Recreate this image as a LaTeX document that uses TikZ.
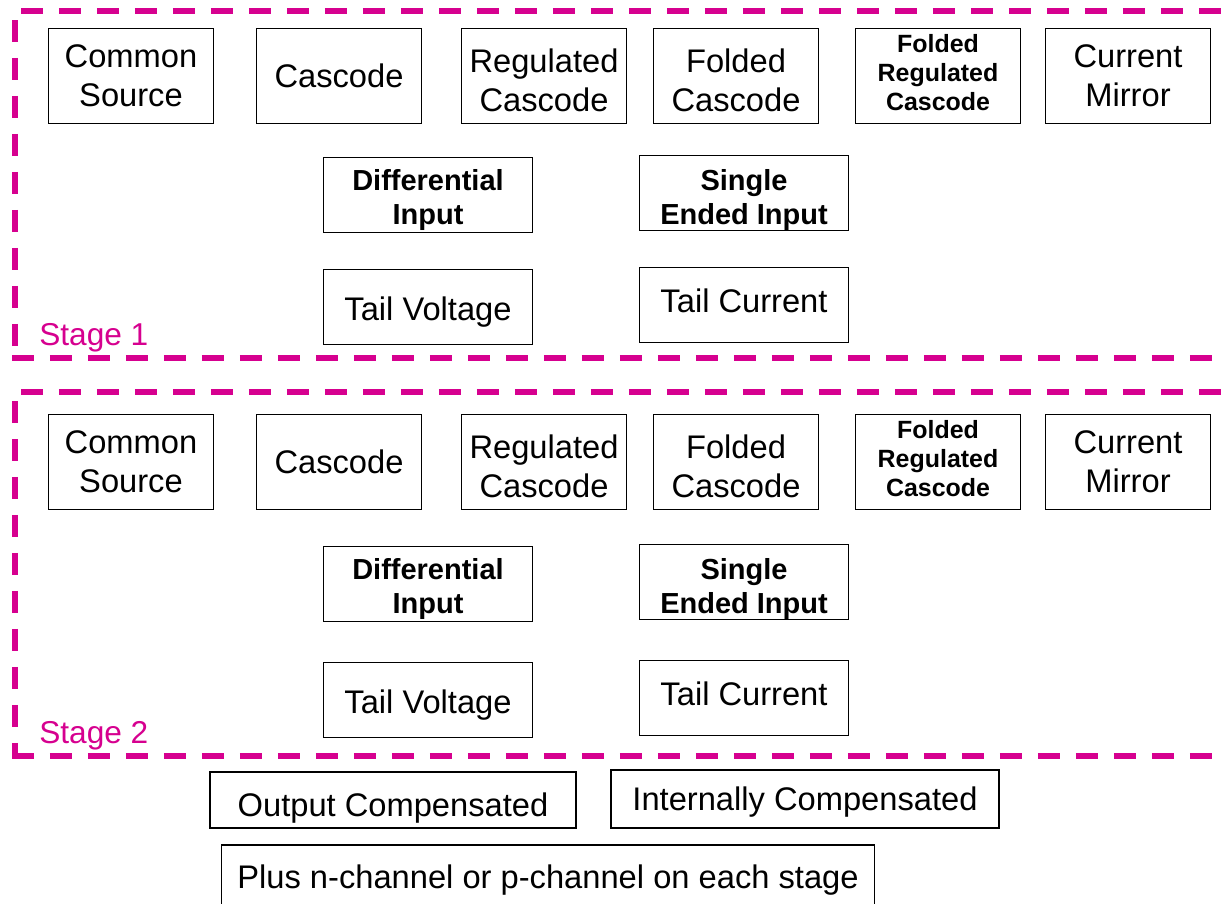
\documentclass[tikz,border=0pt]{standalone}
\usepackage{fontspec}
\setmainfont{Liberation Sans}
\usepackage{tikz}
\usetikzlibrary{positioning}
\definecolor{stagepink}{RGB}{214,0,143}
\tikzset{
   block/.style={draw=black, line width=0.8pt, align=center, inner sep=0pt,
                 font=\fontsize{18.6}{22}\selectfont},
   topblock/.style={block, minimum width=3.3cm, minimum height=1.9cm},
   midblock/.style={block, minimum width=4.18cm, minimum height=1.5cm},
   boldblock/.style={midblock, font=\fontsize{16.5}{19.3}\selectfont\bfseries},
   smallbold/.style={topblock, font=\fontsize{14.2}{16.5}\selectfont\bfseries},
   stageline/.style={draw=stagepink, line width=3.4pt, dash pattern=on 0.44cm off 0.32cm},
   stagelabel/.style={text=stagepink, anchor=west, inner sep=0pt,
                 font=\fontsize{18}{21}\selectfont},
   % move the text inside a box down (height) or up (depth)
   down/.style={text height=#1},
   up/.style={text depth=#1}
}

\begin{document}
\begin{tikzpicture}[x=0.02cm,y=-0.02cm]
\useasboundingbox (0,0) rectangle (1223,903);

% the two stages are drawn the same way
\foreach \s/\ya/\yb/\yc/\yt/\yd in {1/76/195/307/11/358, 2/462/584/700/392/756}{
  % dashed frame, open to the right
  \draw[stageline] (21,\yt) -- (1240,\yt);
  \draw[stageline] (15,\yt+9) -- (15,\yd);
  \draw[stageline] (12,\yd) -- (1240,\yd);
  \node[stagelabel] (stage\s) at (39,\yd-20) {Stage \s};
  % first row
  \node[topblock] (cs\s)   at (131,\ya)  {Common\\Source};
  \node[topblock] (casc\s) at (339,\ya)  {Cascode};
  \node[topblock, down=40.5pt] (reg\s)  at (544,\ya)  {Regulated\\Cascode};
  \node[topblock, down=40.5pt] (fold\s) at (736,\ya)  {Folded\\Cascode};
  \node[smallbold, down=39.4pt] (freg\s) at (938,\ya) {Folded\\Regulated\\Cascode};
  \node[topblock] (mirr\s) at (1128,\ya) {Current\\Mirror};
  % input and tail
  \node[boldblock, down=37pt]   (diff\s)   at (428,\yb)   {Differential\\Input};
  \node[boldblock, down=38.9pt] (single\s) at (744,\yb-2) {Single\\Ended Input};
  \node[midblock, down=19.1pt]  (tailv\s)  at (428,\yc)   {Tail Voltage};
  \node[midblock, up=4.6pt]     (taili\s)  at (744,\yc-2) {Tail Current};
}

% compensation
\node[block, down=22.9pt, minimum width=7.32cm, minimum height=1.12cm] (outc) at (393,800) {Output Compensated};
\node[block, down=16.8pt, minimum width=7.76cm, minimum height=1.16cm] (intc) at (805,799) {Internally Compensated};
\node[block, down=18pt, minimum width=13.06cm, minimum height=1.24cm] (chan) at (548,876) {Plus n-channel or p-channel on each stage};
\end{tikzpicture}
\end{document}
